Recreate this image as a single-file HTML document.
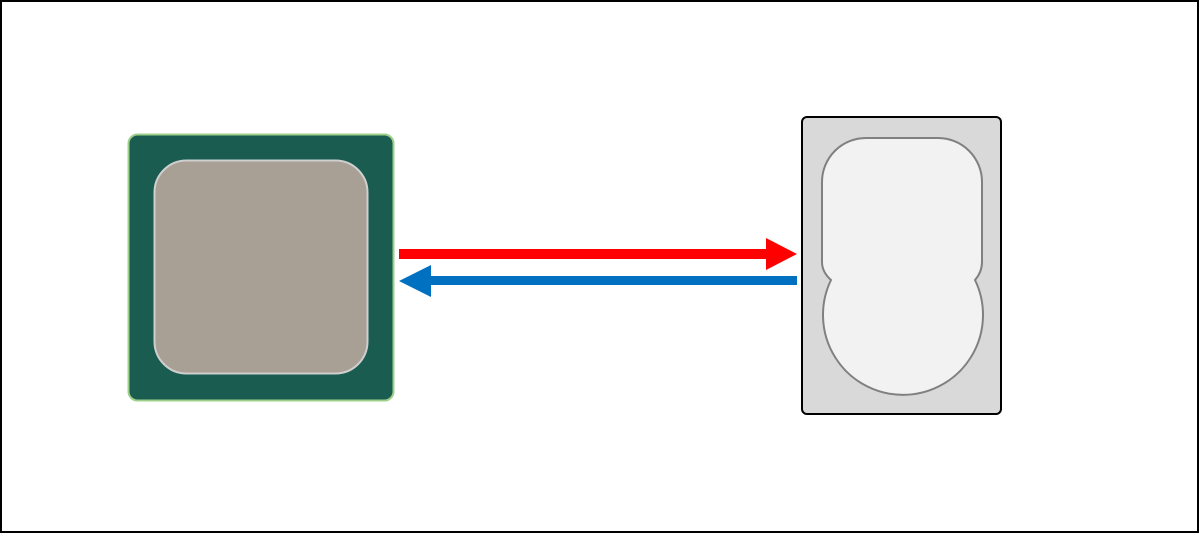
<!DOCTYPE html>
<html><head><style>body{margin:0;background:#fff}svg{display:block}</style></head>
<body>
<svg width="1200" height="536" viewBox="0 0 1200 536" xmlns="http://www.w3.org/2000/svg">
<rect x="1" y="1" width="1197" height="531" fill="#fff" stroke="#000" stroke-width="2"/>
<rect x="128.5" y="134.5" width="265" height="266" rx="9" fill="#1a5c50" stroke="#9fd08a" stroke-width="2"/>
<rect x="154.5" y="160.5" width="213" height="213" rx="32" fill="#a89f95" stroke="#cfcfcf" stroke-width="2"/>
<rect x="399" y="249" width="370" height="10" fill="#ff0000"/>
<polygon points="766,238 797,254 766,270" fill="#ff0000"/>
<rect x="428" y="276" width="369" height="9" fill="#0070c0"/>
<polygon points="431,265 399,281 431,297" fill="#0070c0"/>
<rect x="802" y="117" width="199" height="297" rx="5" fill="#d9d9d9" stroke="#000" stroke-width="2"/>
<path d="M866,138 L938,138 A44,44 0 0 1 982,182 L982,262 Q982,272 975,280 A80,80 0 1 1 831,280 Q822,272 822,262 L822,182 A44,44 0 0 1 866,138 Z" fill="#f2f2f2" stroke="#808080" stroke-width="2"/>
</svg>
</body></html>
